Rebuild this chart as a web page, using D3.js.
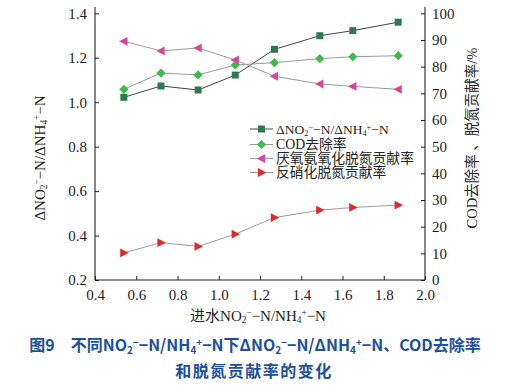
<!DOCTYPE html>
<html><head><meta charset="utf-8">
<script src="https://cdn.jsdelivr.net/npm/d3@7/dist/d3.min.js"></script>
<style>body{margin:0;background:#fff}svg{display:block}</style>
</head><body>
<svg id="c" width="513" height="387"></svg>
<script>
const xValues = [0.54, 0.72, 0.90, 1.08, 1.27, 1.49, 1.65, 1.87];
const ratioValues = [1.022, 1.073, 1.055, 1.122, 1.238, 1.299, 1.322, 1.360];
const codValues = [71.5, 77.6, 76.9, 80.6, 81.5, 83.0, 83.7, 84.1];
const anammoxValues = [89.5, 85.9, 87.0, 82.5, 76.4, 73.5, 72.6, 71.5];
const denitValues = [10.2, 14.0, 12.6, 17.2, 23.4, 26.2, 27.2, 28.1];
const xTicks = [0.4, 0.6, 0.8, 1.0, 1.2, 1.4, 1.6, 1.8, 2.0];
const leftTicks = [0.2, 0.4, 0.6, 0.8, 1.0, 1.2, 1.4];
const rightTicks = [0, 10, 20, 30, 40, 50, 60, 70, 80, 90, 100];

const svg = d3.select("#c");
const L = 95, R = 425, T = 13.3, B = 280;
const x = d3.scaleLinear().domain([0.4, 2.0]).range([L, R]);
const yL = d3.scaleLinear().domain([0.2, 1.4]).range([B, T]);
const yR = d3.scaleLinear().domain([0, 100]).range([B, T]);
const serif = "'Liberation Serif', Tinos, 'Times New Roman', 'DejaVu Serif', 'Noto Sans CJK SC', serif";

function rich(sel, parts, size) {
  parts.forEach(p => {
    const s = typeof p === "string" ? {t: p} : p;
    const ts = sel.append("tspan").text(s.t);
    if (s.sub) ts.attr("font-size", size * 0.62).attr("baseline-shift", "-25%");
    if (s.sup) ts.attr("font-size", size * 0.62).attr("baseline-shift", "55%");
  });
}
const ratioLabel = ["ΔNO", {sub: 1, t: "2"}, {sup: 1, t: "−"}, "−N/ΔNH", {sub: 1, t: "4"}, {sup: 1, t: "+"}, "−N"];

const ax = svg.append("g").attr("stroke", "#222").attr("stroke-width", 1.1).attr("fill", "none");
ax.append("line").attr("x1", L).attr("x2", L).attr("y1", 7).attr("y2", B);
ax.append("line").attr("x1", R).attr("x2", R).attr("y1", 7).attr("y2", B);
ax.append("line").attr("x1", L).attr("x2", R).attr("y1", B).attr("y2", B);

const gx = svg.append("g").attr("transform", `translate(0,${B})`)
  .call(d3.axisBottom(x).tickValues(xTicks).tickFormat(d3.format(".1f")).tickSizeInner(-4).tickSizeOuter(0).tickPadding(9));
const gl = svg.append("g").attr("transform", `translate(${L},0)`)
  .call(d3.axisLeft(yL).tickValues(leftTicks).tickFormat(d3.format(".1f")).tickSizeInner(-4).tickSizeOuter(0).tickPadding(8));
const gr = svg.append("g").attr("transform", `translate(${R},0)`)
  .call(d3.axisRight(yR).tickValues(rightTicks).tickFormat(d3.format("d")).tickSizeInner(-4).tickSizeOuter(0).tickPadding(7));
[gx, gl, gr].forEach(g => {
  g.attr("font-family", null).attr("font-size", null);
  g.select(".domain").remove();
  g.selectAll(".tick line").attr("stroke", "#222");
  g.selectAll(".tick text").style("font-family", serif).style("font-size", "15px").attr("fill", "#222");
});

const series = [
  {vals: ratioValues, y: yL, line: "#444", color: "#2e7a4c", shape: "square"},
  {vals: codValues, y: yR, line: "#9a9a9a", color: "#3dba4a", shape: "diamond"},
  {vals: anammoxValues, y: yR, line: "#9a9a9a", color: "#d9449b", shape: "left"},
  {vals: denitValues, y: yR, line: "#9a9a9a", color: "#e2282b", shape: "right"}
];
function marker(g, shape, cx, cy, color) {
  let d;
  if (shape === "square") d = `M${cx-3.5},${cy-3.5}h7v7h-7z`;
  else if (shape === "diamond") d = `M${cx},${cy-4.6}L${cx+4.6},${cy}L${cx},${cy+4.6}L${cx-4.6},${cy}z`;
  else if (shape === "left") d = `M${cx-4.8},${cy}L${cx+3.6},${cy-4.4}L${cx+3.6},${cy+4.4}z`;
  else d = `M${cx+4.8},${cy}L${cx-3.6},${cy-4.4}L${cx-3.6},${cy+4.4}z`;
  g.append("path").attr("d", d).attr("fill", color);
}
series.forEach(s => {
  const line = d3.line().x((d, i) => x(xValues[i])).y(d => s.y(d));
  svg.append("path").datum(s.vals).attr("d", line).attr("fill", "none").attr("stroke", s.line).attr("stroke-width", 1);
});
series.forEach(s => {
  const g = svg.append("g");
  s.vals.forEach((v, i) => marker(g, s.shape, x(xValues[i]), s.y(v), s.color));
});

const legendNames = [ratioLabel, ["COD去除率"], ["厌氧氨氧化脱氮贡献率"], ["反硝化脱氮贡献率"]];
const legendRows = [129, 144.5, 158.6, 172.5];
series.forEach((s, i) => {
  const yy = legendRows[i];
  svg.append("line").attr("x1", 250).attr("x2", 273).attr("y1", yy).attr("y2", yy).attr("stroke", s.line).attr("stroke-width", 1);
  marker(svg, s.shape, 261.5, yy, s.color);
  const fs = i === 0 ? 13.5 : 13.8;
  const t = svg.append("text").attr("x", 276).attr("y", yy + 4.6).style("font-family", serif).attr("font-size", fs).attr("fill", "#222");
  rich(t, legendNames[i], fs);
});

const tl = svg.append("text").attr("transform", "translate(45,158) rotate(-90)").attr("text-anchor", "middle")
  .style("font-family", serif).attr("font-size", 15).attr("fill", "#222");
rich(tl, ratioLabel, 15);
svg.append("text").attr("transform", "translate(477,138) rotate(-90)").attr("text-anchor", "middle")
  .style("font-family", serif).attr("font-size", 14.5).attr("fill", "#222").text("COD去除率 、脱氮贡献率/%");
const tx = svg.append("text").attr("x", 258).attr("y", 321).attr("text-anchor", "middle")
  .style("font-family", serif).attr("font-size", 15).attr("fill", "#222");
rich(tx, ["进水NO", {sub: 1, t: "2"}, {sup: 1, t: "−"}, "−N/NH", {sub: 1, t: "4"}, {sup: 1, t: "+"}, "−N"], 15);

const sans = "'Noto Sans CJK SC','Noto Sans',sans-serif";
const c1 = svg.append("text").attr("x", 255).attr("y", 351).attr("text-anchor", "middle")
  .style("font-family", sans).attr("font-size", 16).attr("font-weight", "bold").attr("fill", "#1c4f9c");
rich(c1, ["图9　不同NO", {sub: 1, t: "2"}, {sup: 1, t: "−"}, "−N/NH", {sub: 1, t: "4"}, {sup: 1, t: "+"}, "−N下ΔNO", {sub: 1, t: "2"}, {sup: 1, t: "−"}, "−N/ΔNH", {sub: 1, t: "4"}, {sup: 1, t: "+"}, "−N、COD去除率"], 16);
svg.append("text").attr("x", 254).attr("y", 377).attr("text-anchor", "middle")
  .style("font-family", sans).attr("font-size", 16).attr("font-weight", "bold").attr("fill", "#1c4f9c")
  .attr("letter-spacing", 1.5).text("和脱氮贡献率的变化");
</script>
</body></html>
